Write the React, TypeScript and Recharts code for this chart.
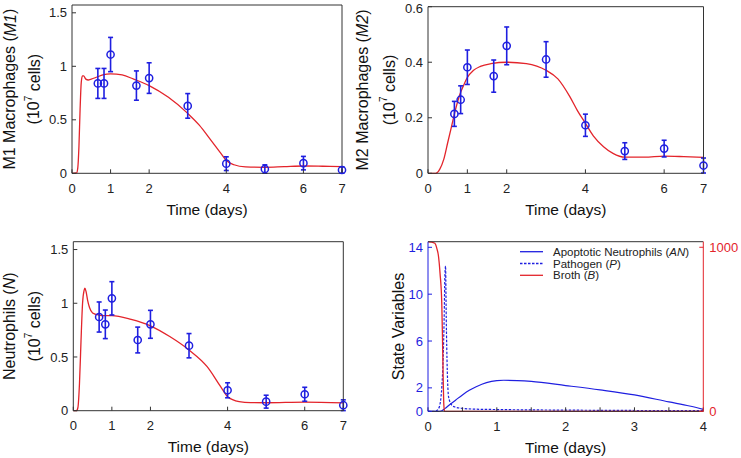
import React from "react";
import { ComposedChart, Line, Scatter, ErrorBar, XAxis, YAxis } from "recharts";

// measured time points (days)
const sampleDays = [0.67, 0.83, 1, 1.67, 2, 3, 4, 5, 6, 7];

const m1Mean = [0.84, 0.84, 1.11, 0.82, 0.89, 0.63, 0.09, 0.04, 0.095, 0.031];
const m1Err = [0.14, 0.14, 0.16, 0.137, 0.143, 0.115, 0.064, 0.039, 0.063, 0.03];

const m2Mean = [0.214, 0.265, 0.382, 0.35, 0.459, 0.41, 0.173, 0.08, 0.089, 0.028];
const m2Err = [0.045, 0.05, 0.062, 0.058, 0.068, 0.064, 0.04, 0.03, 0.03, 0.027];

const nMean = [0.872, 0.804, 1.046, 0.658, 0.804, 0.605, 0.19, 0.084, 0.153, 0.051];
const nErr = [0.14, 0.133, 0.155, 0.12, 0.13, 0.113, 0.07, 0.06, 0.065, 0.05];

// model fits
const m1FitT = [0, 0.12, 0.15, 0.18, 0.21, 0.24, 0.27, 0.3, 0.36, 0.42, 0.5, 0.65, 0.8, 1, 1.3, 1.6, 2, 2.5, 3, 3.3, 3.6, 3.85, 4, 4.2, 4.5, 5, 5.5, 6, 6.5, 7];
const m1FitY = [0, 0.005, 0.05, 0.25, 0.6, 0.85, 0.91, 0.91, 0.88, 0.872, 0.88, 0.9, 0.92, 0.93, 0.92, 0.88, 0.82, 0.71, 0.56, 0.45, 0.31, 0.19, 0.12, 0.08, 0.06, 0.056, 0.062, 0.068, 0.066, 0.063];

const m2FitT = [0, 0.2, 0.3, 0.4, 0.5, 0.6, 0.7, 0.8, 0.9, 1, 1.15, 1.33, 1.6, 2, 2.5, 3, 3.3, 3.6, 3.8, 4, 4.2, 4.46, 4.7, 5, 5.5, 6, 6.5, 7];
const m2FitY = [0, 0, 0.015, 0.05, 0.11, 0.17, 0.23, 0.28, 0.315, 0.345, 0.37, 0.385, 0.395, 0.4, 0.395, 0.371, 0.34, 0.277, 0.225, 0.18, 0.135, 0.096, 0.072, 0.058, 0.058, 0.062, 0.06, 0.057];

const nFitT = [0, 0.08, 0.12, 0.16, 0.2, 0.24, 0.28, 0.3, 0.33, 0.37, 0.42, 0.5, 0.66, 0.8, 1, 1.5, 2, 2.5, 3, 3.47, 3.82, 4, 4.3, 4.6, 5, 6, 7];
const nFitY = [0, 0, 0.03, 0.25, 0.65, 1.0, 1.12, 1.14, 1.11, 1.03, 0.96, 0.91, 0.89, 0.885, 0.885, 0.85, 0.79, 0.69, 0.565, 0.41, 0.224, 0.13, 0.085, 0.075, 0.074, 0.08, 0.072];

// state variables panel
const anT = [0, 0.15, 0.2, 0.25, 0.3, 0.4, 0.5, 0.6, 0.7, 0.85, 1, 1.1, 1.3, 1.5, 2, 2.5, 3, 3.5, 3.8, 4];
const anY = [0, 0, 0.05, 0.25, 0.5, 0.95, 1.4, 1.8, 2.1, 2.45, 2.62, 2.65, 2.62, 2.55, 2.2, 1.83, 1.4, 0.8, 0.45, 0.17];

const pT = [0, 0.1, 0.15, 0.18, 0.2, 0.22, 0.235, 0.245, 0.255, 0.265, 0.28, 0.3, 0.35, 0.4, 0.5, 0.7, 1, 1.5, 2, 3, 4];
const pY = [0, 0, 0.2, 0.8, 2, 4.5, 8, 11.5, 12.4, 8, 3.5, 1.2, 0.5, 0.35, 0.25, 0.18, 0.15, 0.12, 0.1, 0.07, 0.05];

const bT = [0, 0.05, 0.1, 0.13, 0.15, 0.175, 0.2, 0.21, 0.22, 0.23, 0.24, 0.3, 1, 2, 3, 4];
const bY = [1033, 1032, 1024, 990, 953, 841, 660, 460, 220, 40, 0, 0, 0, 0, 0, 0];

const dayTicks = [0, 1, 2, 4, 6, 7];
const stateDayTicks = [0, 0.5, 1, 1.5, 2, 2.5, 3, 3.5, 4];
const m1Ticks = [0, 0.5, 1, 1.5];
const m2Ticks = [0, 0.2, 0.4, 0.6];
const nTicks = [0, 0.5, 1, 1.5];
const stateTicks = [0, 2, 6, 10, 14];
const brothTicks = [0, 1000];

const legendLabels = [
  ["Apoptotic Neutrophils (", "AN", ")"],
  ["Pathogen (", "P", ")"],
  ["Broth (", "B", ")"],
];

const BLUE = "#1f1fe0";
const RED = "#e3242b";
const AXIS = "#333333";
const FONT = "'Liberation Sans', Arial, Helvetica, sans-serif";

const toPts = (xs: number[], ys: number[], es?: number[]) =>
  xs.map((x, i) => ({ x, y: ys[i], err: es ? es[i] : 0 }));

const Circle = (p: any) => (
  <circle cx={p.cx} cy={p.cy} r={3.6} fill="none" stroke={BLUE} strokeWidth={1.5} />
);

const tickStyle = { fill: "#222", fontSize: 13, fontFamily: FONT };
const blank = () => "";

type Box = { left: number; top: number; width: number; height: number };
type Plot = { x0: number; x1: number; y0: number; y1: number };

function margins(box: Box, plot: Plot, leftW: number, rightW: number) {
  return {
    left: plot.x0 - box.left - leftW,
    right: box.left + box.width - plot.x1 - rightW,
    top: plot.y0 - box.top - 1,
    bottom: box.top + box.height - plot.y1 - 40,
  };
}

function xLabel(box: Box, plot: Plot) {
  const cx = (plot.x0 + plot.x1) / 2 - box.left;
  const cy = plot.y1 - box.top + 36;
  return () => (
    <text x={cx} y={cy} textAnchor="middle" dominantBaseline="central" fontSize={15.5} fontFamily={FONT} fill="#111">
      Time (days)
    </text>
  );
}

function yLabel(box: Box, plot: Plot, off1: number, off2: number | null, name: string, sym: string | null) {
  const cy = (plot.y0 + plot.y1) / 2 - box.top;
  const x1 = plot.x0 - box.left + off1;
  const x2 = off2 === null ? 0 : plot.x0 - box.left + off2;
  return () => (
    <g fontSize={16} fontFamily={FONT} fill="#111">
      <text x={x1} y={cy} textAnchor="middle" dominantBaseline="central" transform={`rotate(-90, ${x1}, ${cy})`}>
        {name}
        {sym && (
          <>
            (<tspan fontStyle="italic">{sym}</tspan>)
          </>
        )}
      </text>
      {off2 !== null && (
        <text x={x2} y={cy} textAnchor="middle" dominantBaseline="central" transform={`rotate(-90, ${x2}, ${cy})`}>
          (10<tspan dy={-6} fontSize={10}>7</tspan>
          <tspan dy={6}> cells)</tspan>
        </text>
      )}
    </g>
  );
}

type FitProps = {
  box: Box;
  plot: Plot;
  yDomain: [number, number];
  yTicks: number[];
  points: { x: number; y: number; err: number }[];
  fit: { x: number; y: number; err: number }[];
  name: string;
  sym: string;
  off1: number;
  off2: number;
};

function FitPanel({ box, plot, yDomain, yTicks, points, fit, name, sym, off1, off2 }: FitProps) {
  const m = margins(box, plot, 40, 1);
  return (
    <div style={{ position: "absolute", left: box.left, top: box.top }}>
      <ComposedChart width={box.width} height={box.height} margin={m}>
        <XAxis xAxisId="b" dataKey="x" type="number" domain={[0, 7]} ticks={dayTicks}
          stroke={AXIS} tickSize={-4} tickMargin={14} tick={tickStyle} height={40}
          label={{ content: xLabel(box, plot) }} />
        <XAxis xAxisId="t" orientation="top" dataKey="x" type="number" domain={[0, 7]} ticks={dayTicks}
          stroke={AXIS} tickSize={-4} tickFormatter={blank} height={1} />
        <YAxis yAxisId="l" type="number" domain={yDomain} ticks={yTicks}
          stroke={AXIS} tickSize={-4} tickMargin={9} tick={tickStyle} width={40}
          label={{ content: yLabel(box, plot, off1, off2, name, sym) }} />
        <YAxis yAxisId="r" orientation="right" type="number" domain={yDomain} ticks={yTicks}
          stroke={AXIS} tickSize={-4} tickFormatter={blank} width={1} />
        <Line xAxisId="b" yAxisId="l" data={fit} dataKey="y" type="monotone" stroke={RED}
          strokeWidth={1.3} dot={false} isAnimationActive={false} />
        <Scatter xAxisId="b" yAxisId="l" data={points} dataKey="y" shape={Circle} isAnimationActive={false}>
          <ErrorBar dataKey="err" direction="y" width={2.5} stroke={BLUE} strokeWidth={1.6} />
        </Scatter>
      </ComposedChart>
    </div>
  );
}

function StatePanel() {
  const box = { left: 370, top: 229, width: 371, height: 229 };
  const plot = { x0: 428, x1: 703.3, y0: 241.7, y1: 411.3 };
  const m = margins(box, plot, 40, 36);
  // legend drawn inside the svg, next to the top axis
  const lx = 520 - box.left;
  const ly = 251.7 - box.top;
  const legend = () => (
    <g>
      {legendLabels.map((parts, i) => {
        const y = ly + i * 11.8;
        return (
          <g key={i}>
            <line x1={lx} x2={lx + 23} y1={y} y2={y} stroke={i === 2 ? RED : BLUE} strokeWidth={1.3}
              strokeDasharray={i === 1 ? "2.5 1.5" : undefined} />
            <text x={lx + 33} y={y} dominantBaseline="central" fontSize={11.5} fontFamily={FONT} fill="#222">
              {parts[0]}
              <tspan fontStyle="italic">{parts[1]}</tspan>
              {parts[2]}
            </text>
          </g>
        );
      })}
    </g>
  );
  return (
    <div style={{ position: "absolute", left: box.left, top: box.top }}>
      <ComposedChart width={box.width} height={box.height} margin={m}>
        <XAxis xAxisId="b" dataKey="x" type="number" domain={[0, 4]} ticks={stateDayTicks}
          stroke={AXIS} tickSize={-4} tickMargin={14} tick={tickStyle} height={40}
          tickFormatter={(v: number) => (Number.isInteger(v) ? String(v) : "")}
          label={{ content: xLabel(box, plot) }} />
        <XAxis xAxisId="t" orientation="top" dataKey="x" type="number" domain={[0, 4]} ticks={stateDayTicks}
          stroke={AXIS} tickSize={-4} tickFormatter={blank} height={1}
          label={{ content: legend }} />
        <YAxis yAxisId="l" type="number" domain={[0, 14.48]} ticks={stateTicks}
          stroke={BLUE} tickSize={-4} tickMargin={9} tick={{ ...tickStyle, fill: BLUE }} width={40}
          label={{ content: yLabel(box, plot, -30, null, "State Variables", null) }} />
        <YAxis yAxisId="r" orientation="right" type="number" domain={[0, 1034]} ticks={brothTicks}
          stroke={RED} tickSize={-4} tickMargin={10} tick={{ ...tickStyle, fill: RED }} width={36} />
        <Line xAxisId="b" yAxisId="l" data={toPts(anT, anY)} dataKey="y" type="monotone" stroke={BLUE}
          strokeWidth={1.2} dot={false} isAnimationActive={false} />
        <Line xAxisId="b" yAxisId="l" data={toPts(pT, pY)} dataKey="y" type="monotone" stroke={BLUE}
          strokeWidth={1.2} strokeDasharray="2.5 1.5" dot={false} isAnimationActive={false} />
        <Line xAxisId="b" yAxisId="r" data={toPts(bT, bY)} dataKey="y" type="monotone" stroke={RED}
          strokeWidth={1.3} dot={false} isAnimationActive={false} />
      </ComposedChart>
    </div>
  );
}

export default function App() {
  return (
    <div style={{ position: "absolute", left: 0, top: 0, width: 741, height: 458, background: "#fff", fontFamily: FONT }}>
      <FitPanel
        box={{ left: 0, top: 0, width: 370, height: 225 }}
        plot={{ x0: 72, x1: 342, y0: 5, y1: 173.3 }}
        yDomain={[0, 1.573]} yTicks={m1Ticks}
        points={toPts(sampleDays, m1Mean, m1Err)} fit={toPts(m1FitT, m1FitY)}
        name="M1 Macrophages " sym="M1" off1={-62} off2={-38} />
      <FitPanel
        box={{ left: 345, top: 0, width: 396, height: 225 }}
        plot={{ x0: 428, x1: 703.5, y0: 6.7, y1: 173.3 }}
        yDomain={[0, 0.6]} yTicks={m2Ticks}
        points={toPts(sampleDays, m2Mean, m2Err)} fit={toPts(m2FitT, m2FitY)}
        name="M2 Macrophages " sym="M2" off1={-66} off2={-39} />
      <FitPanel
        box={{ left: 0, top: 229, width: 370, height: 229 }}
        plot={{ x0: 73.3, x1: 343.3, y0: 241.7, y1: 410.7 }}
        yDomain={[0, 1.573]} yTicks={nTicks}
        points={toPts(sampleDays, nMean, nErr)} fit={toPts(nFitT, nFitY)}
        name="Neutrophils " sym="N" off1={-64} off2={-39} />
      <StatePanel />
    </div>
  );
}
